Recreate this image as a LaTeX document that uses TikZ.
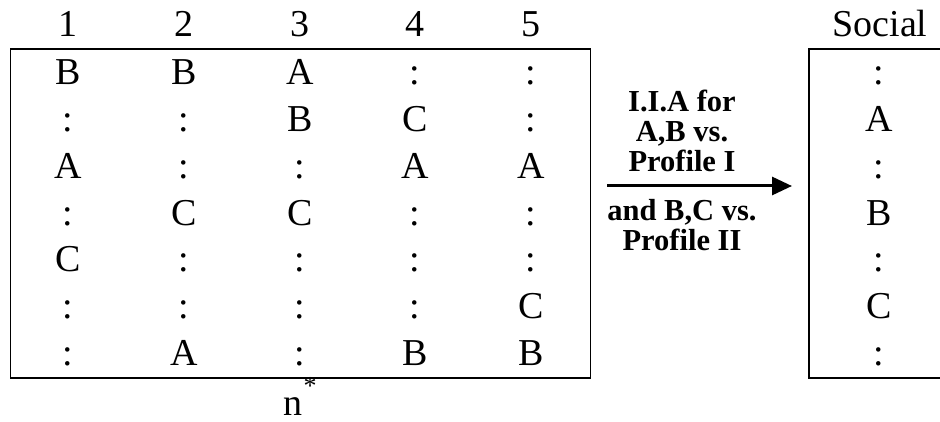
\documentclass[tikz,border=0pt]{standalone}
\usepackage{fontspec}
\setmainfont{Liberation Serif}
\usetikzlibrary{arrows.meta}
\begin{document}
\begin{tikzpicture}[x=1pt,y=-1pt,
  cell/.style={anchor=base, inner sep=0pt, font=\fontsize{38}{40}\selectfont},
  lbl/.style={anchor=base, inner sep=0pt, font=\fontsize{30.5}{31}\selectfont\bfseries},
  frame/.style={draw, line width=1.6pt, inner sep=0pt, minimum height=329pt},
  conn/.style={line width=3pt, -{Triangle[length=20pt,width=18pt]}}]
\useasboundingbox (0,0) rectangle (940,422);
\clip (0,0) rectangle (940,422);
% frames
\node[frame, minimum width=580pt] (leftbox) at (300.5,213.5) {};
\node[frame, minimum width=140pt] (socialbox) at (879,213.5) {};
% headers
\foreach \c/\x in {1/68,2/184,3/300,4/415,5/531}
  \node[cell] (h\c) at (\x,37) {\c};
\node[cell] (hsocial) at (880,37) {Social};
% profile entries
\foreach \c/\x/\lst in {1/68/{B,:,A,:,C,:,:},2/184/{B,:,:,C,:,:,A},3/300/{A,B,:,C,:,:,:},4/415/{:,C,A,:,:,:,B},5/531/{:,:,A,:,:,C,B},6/879/{:,A,:,B,:,C,:}}
  \foreach \e [count=\r] in \lst
    \node[cell] (e\c-\r) at (\x,{85+(\r-1)*46.67}) {\e};
% n*
\node[cell] (nn) at (293,415) {n};
\node[inner sep=0pt, font=\fontsize{26}{26}\selectfont] (star) at (310,386) {*};
% arrow and label
\coordinate (arrS) at (607,186);
\coordinate (arrE) at (792,186);
\draw[conn] (arrS) -- (arrE);
\node[lbl] (l1) at (682,112) {I.I.A for};
\node[lbl] (l2) at (682,142) {A,B vs.};
\node[lbl] (l3) at (682,172) {Profile I};
\node[lbl] (l4) at (682,221) {and B,C vs.};
\node[lbl] (l5) at (682,251) {Profile II};
\end{tikzpicture}
\end{document}
